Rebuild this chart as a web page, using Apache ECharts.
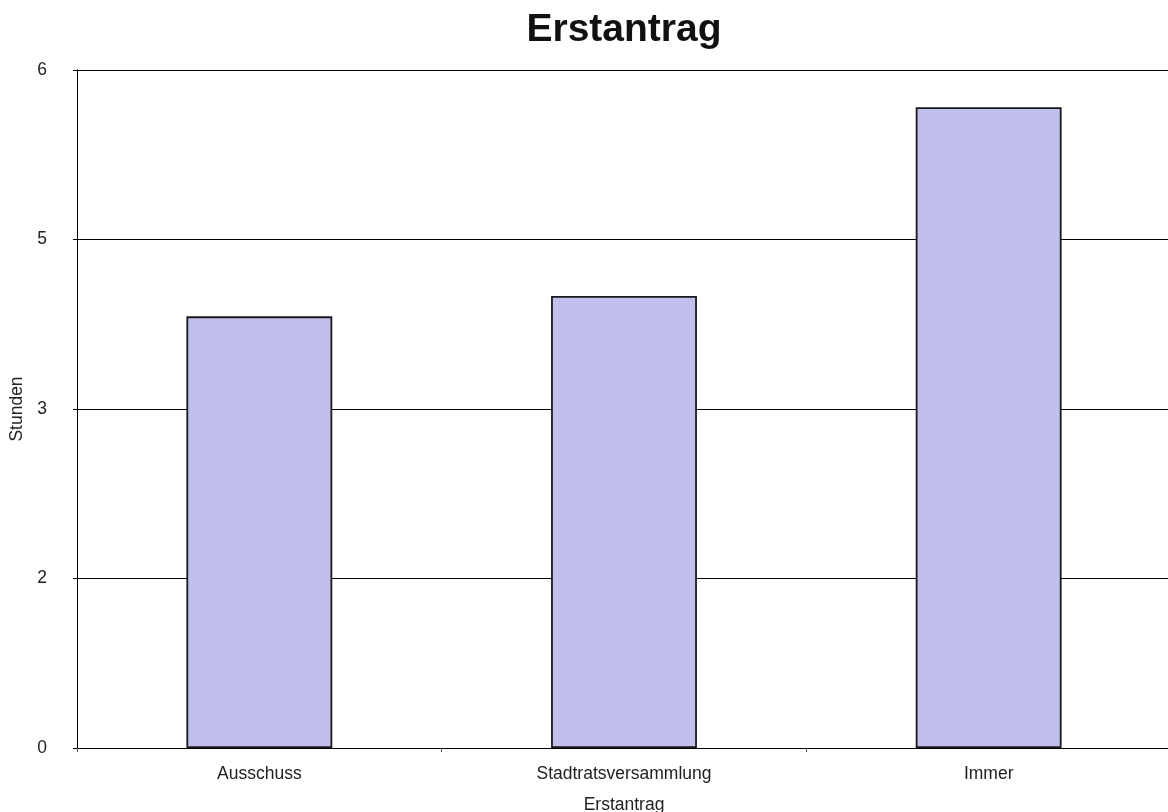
<!DOCTYPE html>
<html>
<head>
<meta charset="utf-8">
<script src="https://cdn.jsdelivr.net/npm/echarts@6/dist/echarts.min.js"></script>
<style>
  html, body { margin: 0; padding: 0; background: #fff; }
  #chart { width: 1168px; height: 812px; }
</style>
</head>
<body>
<div id="chart"></div>
<script>
// Average hours per first-motion category
const categories = ['Ausschuss', 'Stadtratsversammlung', 'Immer'];
const hours = [3.82, 4.0, 5.67];

// Y axis ticks run 0..6 in steps of 1.5; labels are shown rounded
const yTickValues = [0, 1.5, 3, 4.5, 6];
const yTickLabels = ['0', '2', '3', '5', '6'];

const font = '"Liberation Sans", Arial, Helvetica, sans-serif';

const chart = echarts.init(document.getElementById('chart'), null, { renderer: 'canvas' });
chart.setOption({
  animation: false,
  backgroundColor: '#ffffff',
  title: {
    text: 'Erstantrag',
    left: 619,
    textAlign: 'center',
    top: 6,
    textStyle: { fontFamily: font, fontWeight: 'bold', fontSize: 39, color: '#111' }
  },
  grid: {
    left: 77, top: 70, width: 1094, height: 678,
    containLabel: false,
    outerBoundsMode: 'none'
  },
  xAxis: {
    type: 'category',
    data: categories,
    name: 'Erstantrag',
    nameLocation: 'middle',
    nameGap: 48,
    nameTextStyle: { fontFamily: font, fontSize: 17.5, color: '#222' },
    axisLine: { lineStyle: { color: '#000', width: 1 } },
    axisTick: { show: true, length: 4, lineStyle: { color: '#555' } },
    axisLabel: { fontFamily: font, fontSize: 17.5, color: '#222', margin: 17 }
  },
  yAxis: {
    type: 'value',
    min: 0,
    max: 6,
    interval: 1.5,
    name: 'Stunden',
    nameLocation: 'middle',
    nameGap: 47,
    nameRotate: 90,
    nameTextStyle: { fontFamily: font, fontSize: 17.5, color: '#222' },
    axisLine: { show: true, lineStyle: { color: '#000', width: 1 } },
    axisTick: { show: true, length: 4, lineStyle: { color: '#000' } },
    axisLabel: {
      fontFamily: font, fontSize: 17.5, color: '#222', margin: 30,
      formatter: function (v) {
        const i = yTickValues.indexOf(v);
        return i >= 0 ? yTickLabels[i] : '';
      }
    },
    splitLine: { show: true, lineStyle: { color: '#000', width: 1 } }
  },
  series: [{
    type: 'bar',
    data: hours,
    barWidth: '40%',
    itemStyle: { color: '#c1bfeb', borderColor: '#1a1a1a', borderWidth: 1.8 }
  }]
});
</script>
</body>
</html>
